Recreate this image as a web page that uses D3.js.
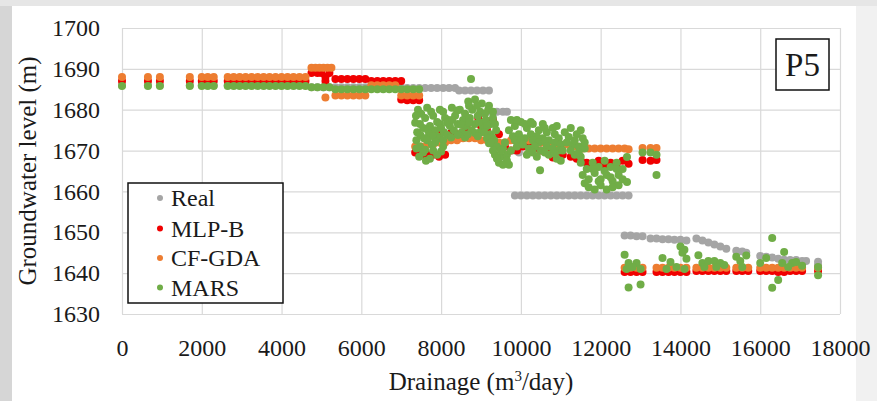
<!DOCTYPE html>
<html>
<head>
<meta charset="utf-8">
<script src="https://cdn.jsdelivr.net/npm/d3@7"></script>
<style>
  html, body { margin: 0; padding: 0; background: #e6e6e6; }
  svg { display: block; }
</style>
</head>
<body>
<svg id="chart" width="877" height="401"></svg>
<script>
// Axis ticks
const xTicks = [0, 2000, 4000, 6000, 8000, 10000, 12000, 14000, 16000, 18000];
const yTicks = [1630, 1640, 1650, 1660, 1670, 1680, 1690, 1700];

// Observed groundwater level, [drainage m3/day, level m]
const realLevel = [
  [0,1686],[650,1686],[950,1686],[1700,1686],[2000,1686],[2150,1686],[2300,1686],
  [2650,1686],[2800,1686],[2950,1686],[3100,1686],[3250,1686],[3400,1686],[3550,1686],
  [3700,1686],[3850,1686],[4000,1686],[4150,1686],[4300,1686],[4450,1686],[4600,1686],
  [4750,1685.5],[4900,1685.5],[5050,1685.5],[5200,1685.5],[5350,1685.5],[5500,1685.5],
  [5650,1685.5],[5800,1685.5],[5950,1685.5],[6100,1685.5],[6250,1685.5],[6400,1685.5],
  [6550,1685.5],[6700,1685.5],[6850,1685.5],[7000,1685.5],
  [7150,1685.3],[7300,1685.3],[7450,1685.3],[7600,1685.3],[7750,1685.3],[7900,1685.3],
  [8050,1685.3],[8200,1685.3],[8350,1685.3],
  [8450,1684.7],[8600,1684.7],[8750,1684.7],[8900,1684.7],[9050,1684.7],[9200,1684.7],
  [9250,1679.5],[9400,1679.5],[9550,1679.5],[9650,1679.5],
  [9850,1670],[9950,1669.5],
  [9850,1659],[10000,1659],[10150,1659],[10300,1659],[10450,1659],[10600,1659],[10750,1659],
  [10900,1659],[11050,1659],[11200,1659],[11350,1659],[11500,1659],[11650,1659],[11800,1659],
  [11950,1659],[12100,1659],[12250,1659],[12400,1659],[12550,1659],[12700,1659],
  [12600,1649.2],[12750,1649.2],[12900,1649],[13050,1649],[13250,1648.5],[13400,1648.5],
  [13550,1648.3],[13700,1648.3],[13850,1648.2],[14000,1648.2],[14150,1648],
  [14400,1648.5],[14550,1648],[14700,1647.5],[14850,1647],[15000,1646.5],[15150,1646],
  [15400,1645.5],[15550,1645.3],[15650,1645],
  [16000,1644.2],[16150,1644],[16300,1643.8],[16450,1643.5],[16600,1643.3],[16750,1643.2],
  [16900,1643.2],[17050,1643],[17150,1643],[17450,1642.8],[17450,1642]
];

// MLP-B model estimates
const mlpLevel = [
  [0,1687],[650,1687],[950,1687],[1700,1687],[2000,1687],[2150,1687],[2300,1687],
  [2650,1687],[2800,1687],[2950,1687],[3100,1687],[3250,1687],[3400,1687],[3550,1687],
  [3700,1687],[3850,1687],[4000,1687],[4150,1687],[4300,1687],[4450,1687],[4600,1687],
  [4750,1689],[4900,1689],[5000,1689],[5100,1688],[5100,1687],[5200,1689],
  [5350,1687.5],[5500,1687.5],[5650,1687.5],[5800,1687.5],[5950,1687.5],[6100,1687.5],
  [6250,1687],[6400,1687],[6550,1687],[6700,1687],[6850,1687],[7000,1687],
  [7000,1682.5],[7150,1682.3],[7300,1682.3],[7450,1682.3],
  [7350,1669.5],[7500,1669],[7650,1669],[7800,1669],[7950,1668.5],[8100,1669],
  [7900,1674],[8250,1674.3],[8400,1674],[8550,1674.5],[8700,1675],[8930,1678],
  [9000,1676],[9150,1675],[9300,1677.5],[9450,1674],
  [9600,1671],[9750,1670],[9900,1670],[10050,1671],[10200,1671],[10350,1670.5],[10500,1670],
  [10650,1669.5],[10800,1668.3],[10950,1669],[11050,1669],[11250,1668.5],[11400,1668],
  [11500,1667.5],[11650,1667],[11800,1666.5],[11950,1667.5],[12100,1666.5],[12250,1667],
  [12400,1666.5],[12550,1667.5],[12700,1666.8],
  [13050,1667.7],[13250,1667.5],[13400,1667.7],
  [12600,1640.3],[12750,1640.3],[12900,1640.3],[13050,1640.3],[13400,1640.3],[13550,1640.3],
  [13700,1640.3],[13850,1640.3],[14000,1640.3],[14150,1640.3],[14400,1640.5],[14550,1640.5],
  [14700,1640.5],[14850,1640.5],[15000,1640.5],[15150,1640.5],[15400,1640.5],[15550,1640.5],
  [15700,1640.5],[16000,1640.5],[16150,1640.5],[16300,1640.5],[16450,1640.3],[16600,1640.3],
  [16750,1640.5],[16900,1640.5],[17050,1640.5],[17450,1640.5]
];

// CF-GDA model estimates
const cfgdaLevel = [
  [0,1688],[650,1688],[950,1688],[1700,1688],[2000,1688],[2150,1688],[2300,1688],
  [2650,1688],[2800,1688],[2950,1688],[3100,1688],[3250,1688],[3400,1688],[3550,1688],
  [3700,1688],[3850,1688],[4000,1688],[4150,1688],[4300,1688],[4450,1688],[4600,1688],
  [4750,1690.3],[4850,1690.3],[4950,1690.3],[5050,1690.3],[5150,1690.3],[5250,1690.3],[5100,1683],
  [5350,1683.5],[5500,1683.5],[5650,1683.5],[5800,1683.5],[5950,1683.5],[6100,1683.5],
  [6250,1686],[6400,1686],[6550,1686],[6700,1686],[6850,1686],
  [7000,1683.5],[7150,1683.5],[7300,1683.5],[7450,1683.5],
  [7350,1671],[7500,1671],[7650,1671.5],[7800,1671.5],[7950,1672],[8100,1672],
  [8250,1672.5],[8400,1672.5],[8550,1673],[8700,1673],[8850,1673],[9000,1672.5],
  [9150,1672.5],[9300,1672],[9450,1672],[9600,1672],[9750,1672.5],[9900,1672.5],
  [10050,1672.5],[10200,1672.5],[10350,1672.5],[10500,1672],[10650,1672],[10800,1671.5],
  [10950,1671.5],[11100,1671.5],[11250,1671],[11400,1671],[11550,1670.5],[11700,1670.5],
  [11850,1670.5],[12000,1670.5],[12150,1670.5],[12300,1670.5],[12450,1670.5],[12600,1670.5],
  [12700,1670.3],[13050,1670.6],[13250,1670.6],[13400,1670.6],
  [12600,1641.3],[12750,1641.3],[12900,1641.3],[13050,1641.3],[13400,1641.3],[13550,1641.3],
  [13700,1641.3],[13850,1641.3],[14000,1641.3],[14150,1641.3],[14400,1641.3],[14550,1641.3],
  [14700,1641.3],[14850,1641.3],[15000,1641.3],[15150,1641.3],[15400,1641.3],[15550,1641.3],
  [15700,1641.3],[16000,1641.3],[16150,1641.3],[16300,1641.3],[16450,1641.3],[16600,1641.3],
  [16750,1641.3],[16900,1641.3],[17050,1641.3],[17450,1641.3]
];

// MARS model estimates
const marsLevel = [
  [0,1685.8],[650,1685.8],[950,1685.8],[1700,1685.8],[2000,1685.8],[2150,1685.8],[2300,1685.8],
  [2650,1685.8],[2800,1685.8],[2950,1685.8],[3100,1685.8],[3250,1685.8],[3400,1685.8],[3550,1685.8],
  [3700,1685.8],[3850,1685.8],[4000,1685.8],[4150,1685.8],[4300,1685.8],[4450,1685.8],[4600,1685.8],
  [4750,1685.5],[4900,1685.5],[5050,1685.5],[5200,1685.5],[5350,1685],[5500,1685],[5650,1685],
  [5800,1685],[5950,1685],[6100,1685],[6250,1685],[6400,1685],[6550,1685],[6700,1685],
  [6850,1685],[7000,1685],[7150,1685],[7300,1685],[7450,1685],
  [8750,1687.5],
  // 7300-9400 m3/day cluster
  [8680,1682],[8850,1682.5],[9020,1681.5],[9200,1681],
  [7420,1680],[7650,1680.5],[7970,1680],[8270,1680.5],[8470,1680],[8780,1680],[8980,1679.5],[9180,1680],
  [7500,1679],[7750,1679.5],[7900,1677],[8050,1679.5],[8180,1677.5],[8400,1679.8],[8600,1679],
  [8700,1681],[8900,1681],[9100,1679],[9300,1679.5],
  [7370,1678.5],[7600,1678],[7800,1678.5],[8100,1678],[8350,1678.5],[8550,1677.5],[8720,1678],
  [8920,1678.5],[9120,1677.5],[9300,1678],
  [7470,1676.5],[7720,1676],[7970,1676.5],[8220,1676],[8420,1676.5],[8620,1676],[8850,1676.5],
  [9050,1676],[9250,1676.5],
  [7350,1676.8],[7550,1675.5],[7850,1675],[8000,1675.5],[8150,1676.8],[8280,1677.5],[8500,1676.3],
  [8700,1676.8],[8950,1677],[9150,1676],[9350,1676.5],
  [7400,1674.5],[7670,1675],[8070,1674.5],[8320,1675],[8520,1674.5],[8770,1675],[8980,1674.5],
  [9230,1674],[9380,1675],
  [7480,1673.8],[7700,1674],[7900,1673.5],[8150,1673.8],[8250,1673.2],[8600,1673.2],[8850,1674.3],
  [9080,1674.5],[9280,1673.2],
  [7570,1673],[7800,1673.5],[7970,1673],[8420,1673.8],[8670,1674],[8920,1673.5],[9150,1673],[9330,1672.5],
  [7380,1672.5],[7650,1672.5],[7850,1672],[8050,1672.5],[9200,1671.8],
  [7470,1671],[7770,1671.5],[8050,1671],[9350,1671],
  [7600,1670.2],[7380,1670.5],[8000,1669.8],[7800,1670],
  [7550,1669.5],[7900,1669],[7450,1668.5],[7620,1667.5],[7720,1668],
  // 9200-9800 m3/day
  [9250,1672],[9400,1671],[9550,1670.5],[9350,1669],[9500,1668.5],[9650,1669],[9450,1667],
  [9700,1666.5],[9600,1672],[9750,1670],
  [9300,1670],[9500,1670],[9650,1667.5],[9550,1666.5],[9400,1668],
  // 9700-11600 m3/day
  [9700,1675],[9850,1676],[10000,1677],[10150,1675.5],[10300,1676.5],[10550,1676.5],[10650,1674.5],
  [9750,1677.5],[9900,1677.5],[10100,1676.5],[10250,1677],[10450,1675],[10600,1675.5],[10800,1675.5],
  [10900,1676],
  [9800,1673.5],[9950,1674],[10100,1673],[10250,1674],[10400,1673.5],[10550,1673],[10700,1672.5],
  [10850,1674],[10950,1673],
  [9850,1672.5],[10000,1672.5],[10300,1672.5],[10450,1672],[10600,1672.2],[10850,1672],[11000,1671.5],
  [9900,1671],[10050,1671.5],[10200,1670.5],[10350,1671],[10500,1670],[10650,1671],[10800,1670.5],
  [10950,1670],
  [10150,1669],[10400,1668.5],[10700,1669],[10900,1668],[11000,1667.5],[10480,1665.2],
  [10300,1669.5],[10600,1669.5],[10850,1669.2],
  [11100,1674.5],[11250,1675.5],[11400,1674],[11550,1673],[11150,1672],[11300,1671.5],[11450,1671],
  [11600,1670.5],[11050,1670],[11350,1669],[11500,1668.5],
  [11200,1673.3],[11350,1672.5],[11500,1675],[11250,1670],[11450,1669.5],[11600,1672],
  // 11400-12700 m3/day
  [11500,1667],[11650,1665.5],[11800,1667],[11950,1666],[12100,1667.5],[12250,1666],[12400,1667],
  [12550,1665.5],
  [11800,1665.5],[12100,1665],[12400,1665.5],
  [11550,1664],[11700,1663],[11850,1664.5],[12000,1663],[12150,1664],[12300,1662.5],[12450,1664],
  [11600,1662],[11950,1662.5],[12250,1663.5],[12450,1661.5],[12550,1663],
  [11700,1661],[11850,1660.5],[12000,1661.5],[12150,1660.5],[12300,1661],
  [12660,1662.3],[12660,1668.4],
  [13050,1669.5],[13250,1669.5],[13400,1669],[13400,1664],
  // 12500-17500 m3/day
  [12600,1644.5],[12700,1642.5],[12900,1642.5],[12650,1641],[12800,1641.5],[13000,1641],
  [12700,1636.5],[13000,1637.2],
  [13550,1643.7],[13750,1642.7],[13650,1641],[13900,1641.5],[14100,1641],[14000,1646.5],
  [14100,1645.7],[14050,1645],[14150,1643.5],
  [14450,1644.4],[14550,1642.5],[14700,1643],[14850,1643],[15000,1642.5],[15100,1642],
  [14600,1641.5],[14900,1641.5],
  [15400,1644],[15650,1644.3],[15550,1641.5],[15500,1643],
  [16000,1642.5],[16150,1643.7],[16300,1648.6],[16600,1645.2],[16450,1638.3],[16300,1636.4],
  [16550,1642.5],[16800,1642.5],[16900,1642.7],[17050,1641.8],[16700,1641.5],
  [17450,1639.5],[17450,1641.5]
];

const seriesNames = ["Real", "MLP-B", "CF-GDA", "MARS"];
const seriesColors = ["#A5A5A5", "#F00000", "#ED7D31", "#70AD47"];
const seriesData = [realLevel, mlpLevel, cfgdaLevel, marsLevel];

const SERIF = '"Liberation Serif"';
const svg = d3.select("#chart");

// Card background
svg.append("rect").attr("x", 0).attr("y", 0).attr("width", 877).attr("height", 401).attr("fill", "#e6e6e6");
svg.append("rect").attr("x", 0).attr("y", 6).attr("width", 12).attr("height", 395).attr("fill", "#d6d6d6");
svg.append("rect").attr("x", 12).attr("y", 6).attr("width", 844).attr("height", 395).attr("fill", "#ffffff");
svg.append("rect").attr("x", 856).attr("y", 6).attr("width", 21).attr("height", 395).attr("fill", "#f1f1f1");

const x = d3.scaleLinear().domain([0, 18000]).range([122, 840]);
const y = d3.scaleLinear().domain([1630, 1700]).range([314, 28]);

// Gridlines and tick labels
const gx = svg.append("g").attr("transform", "translate(0,314)")
  .call(d3.axisBottom(x).tickValues(xTicks).tickFormat(d3.format("d"))
    .tickSize(-(314 - 28)).tickPadding(25));
const gy = svg.append("g").attr("transform", "translate(122,0)")
  .call(d3.axisLeft(y).tickValues(yTicks).tickFormat(d3.format("d"))
    .tickSize(-(840 - 122)).tickPadding(22));
[gx, gy].forEach(g => {
  g.select(".domain").remove();
  g.selectAll(".tick line").attr("stroke", "#d9d9d9").attr("stroke-width", 1.2);
  g.selectAll(".tick text").attr("font-size", 24).attr("fill", "#1a1a1a")
    .style("font-family", SERIF);
});

// Scatter series, drawn in legend order
seriesData.forEach((data, i) => {
  svg.append("g").selectAll("circle").data(data).join("circle")
    .attr("cx", d => x(d[0]))
    .attr("cy", d => y(d[1]))
    .attr("r", 4)
    .attr("fill", seriesColors[i]);
});

// Axis titles
svg.append("text").attr("x", 481).attr("y", 390).attr("text-anchor", "middle")
  .attr("font-size", 25).attr("fill", "#1a1a1a").style("font-family", SERIF)
  .call(t => {
    t.append("tspan").text("Drainage (m");
    t.append("tspan").attr("font-size", 15).attr("dy", -9).text("3");
    t.append("tspan").attr("dy", 9).text("/day)");
  });
svg.append("text").attr("transform", "translate(36,171) rotate(-90)")
  .attr("text-anchor", "middle").attr("font-size", 25).attr("fill", "#1a1a1a")
  .style("font-family", SERIF).text("Groundwater level (m)");

// Legend
const legend = svg.append("g");
legend.append("rect").attr("x", 128).attr("y", 183).attr("width", 155).attr("height", 120)
  .attr("fill", "#ffffff").attr("stroke", "#111").attr("stroke-width", 1.5);
const rowY = [198, 228.5, 258, 287.5];
seriesNames.forEach((name, i) => {
  legend.append("circle").attr("cx", 160).attr("cy", rowY[i]).attr("r", 3).attr("fill", seriesColors[i]);
  legend.append("text").attr("x", 171).attr("y", rowY[i]).attr("dy", "0.34em")
    .attr("font-size", 24).attr("fill", "#1a1a1a").style("font-family", SERIF).text(name);
});

// Well label
svg.append("rect").attr("x", 776).attr("y", 39).attr("width", 53).attr("height", 51)
  .attr("fill", "#ffffff").attr("stroke", "#111").attr("stroke-width", 1.5);
svg.append("text").attr("x", 802.5).attr("y", 64.5).attr("dy", "0.35em").attr("text-anchor", "middle")
  .attr("font-size", 33).attr("fill", "#1a1a1a").style("font-family", SERIF).text("P5");
</script>
</body>
</html>
